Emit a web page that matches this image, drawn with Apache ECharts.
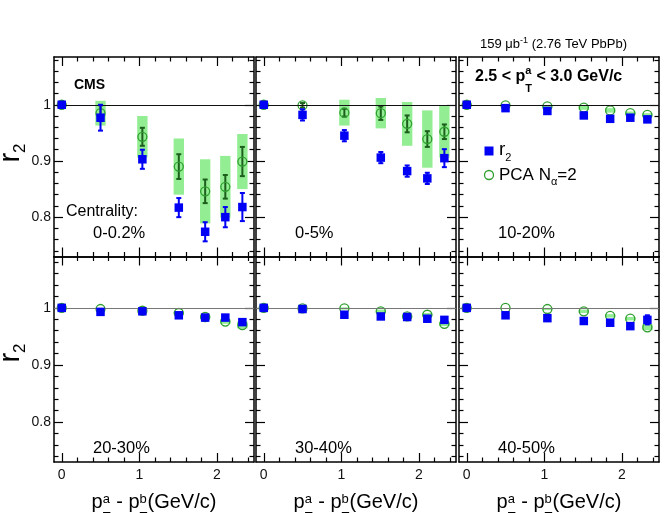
<!DOCTYPE html>
<html>
<head>
<meta charset="utf-8">
<script src="https://cdn.jsdelivr.net/npm/echarts@6/dist/echarts.min.js"></script>
<style>
html,body{margin:0;padding:0;background:#fff}
#main{width:666px;height:513px}
</style>
</head>
<body>
<div id="main"></div>
<script>
// data
var xVals = [0, 0.5, 1.04, 1.51, 1.85, 2.11, 2.33];
var centralities = ['0-0.2%', '0-5%', '10-20%', '20-30%', '30-40%', '40-50%'];
var xTickLabels = [0, 1, 2];
var yTickLabels = [0.8, 0.9, 1];

var r2Values = [
	[1, 0.977, 0.903, 0.817, 0.774, 0.800, 0.818],
	[1, 0.982, 0.945, 0.906, 0.882, 0.869, 0.905],
	[1, 0.994, 0.989, 0.981, 0.975, 0.977, 0.974],
	[1, 0.993, 0.994, 0.987, 0.983, 0.983, 0.975],
	[1, 0.998, 0.988, 0.985, 0.984, 0.981, 0.979],
	[1, 0.987, 0.982, 0.977, 0.974, 0.968, 0.979]
];
var r2Errors = [
	[0, 0.023, 0.017, 0.017, 0.017, 0.018, 0.025],
	[0, 0.010, 0.010, 0.010, 0.010, 0.010, 0.016],
	[0, 0, 0, 0, 0, 0, 0],
	[0, 0, 0, 0, 0, 0, 0],
	[0, 0, 0, 0, 0, 0, 0.004],
	[0, 0, 0, 0, 0, 0, 0.008]
];
var pcaValues = [
	[1, 0.985, 0.943, 0.890, 0.846, 0.854, 0.899],
	[1, 0.999, 0.986, 0.985, 0.966, 0.939, 0.952],
	[1, 0.999, 0.997, 0.995, 0.990, 0.985, 0.982],
	[1, 0.998, 0.995, 0.991, 0.984, 0.976, 0.970],
	[1, 0.999, 0.999, 0.994, 0.985, 0.988, 0.972],
	[1, 1.000, 0.998, 0.994, 0.986, 0.981, 0.966]
];
var pcaErrors = [
	[0, 0.014, 0.016, 0.022, 0.021, 0.021, 0.026],
	[0, 0.004, 0.007, 0.012, 0.015, 0.014, 0.013],
	[0, 0, 0, 0, 0, 0, 0],
	[0, 0, 0, 0, 0, 0, 0],
	[0, 0, 0, 0, 0, 0, 0],
	[0, 0, 0, 0, 0, 0, 0]
];
var pcaSyst = [
	[0, 0.022, 0.037, 0.050, 0.057, 0.055, 0.049],
	[0, 0, 0.023, 0.027, 0.039, 0.051, 0.046],
	[0, 0, 0.002, 0.004, 0.004, 0.003, 0.003],
	[0, 0, 0, 0.002, 0.003, 0.004, 0.006],
	[0, 0, 0.002, 0.003, 0.002, 0.003, 0.004],
	[0, 0, 0.002, 0.003, 0.003, 0.003, 0.005]
];

var FONT = 'Liberation Sans';
var BLUE = '#0000f4';
var GREEN = '#2e9e2e';
var DKGREEN = '#1c5e1c';
var BOX = '#93ee93';

var colLeft = [54, 256, 459];
var colWidth = 200;
var rows = [
	{top: 57, height: 199.5, min: 0.73, max: 1.085},
	{top: 256.5, height: 205.5, min: 0.73, max: 1.09}
];
var xMin = -0.1, xMax = 2.48;

// minor tick positions
var xMinor = [], yMinor = [];
for (var i = 1; i <= 12; i++) { if (i % 5 != 0) xMinor.push(+(i * 0.2).toFixed(2)); }
for (var i = 37; i <= 54; i++) { if (i % 5 != 0) yMinor.push(+(i * 0.02).toFixed(2)); }

var mctx = document.createElement('canvas').getContext('2d');
function tw(t, s, b){
	mctx.font = (b ? 'bold ' : '') + s + 'px "' + FONT + '"';
	return mctx.measureText(t).width;
}
// text with sub/superscripts, laid out left to right from a baseline
function textRun(parts, x, baseline, align){
	var cur = 0, stackW = 0, pos = [];
	for (var i = 0; i < parts.length; i++) {
		var p = parts[i];
		pos.push(cur);
		var w = tw(p.t, p.s, p.b);
		if (p.stack) { stackW = Math.max(stackW, w); }
		else { cur += Math.max(w, stackW); stackW = 0; }
	}
	var x0 = align == 'center' ? x - cur / 2 : (align == 'right' ? x - cur : x);
	var els = [];
	for (var i = 0; i < parts.length; i++) {
		var p = parts[i];
		els.push({
			type: 'text', silent: true,
			x: x0 + pos[i], y: baseline + (p.dy || 0) - 0.31 * p.s,
			style: {text: p.t, fontSize: p.s, fontWeight: p.b ? 'bold' : 'normal', fontFamily: FONT,
				fill: '#000', textAlign: 'left', textVerticalAlign: 'middle', align: 'left', verticalAlign: 'middle'}
		});
	}
	return els;
}
function label(t, x, y, s, b){
	return {type: 'text', silent: true, x: x, y: y,
		style: {text: t, fontSize: s, fontWeight: b ? 'bold' : 'normal', fontFamily: FONT, fill: '#000',
			textAlign: 'left', textVerticalAlign: 'middle', align: 'left', verticalAlign: 'middle'}};
}

function xAx(p, pos, major, labels){
	return {
		type: 'value', gridIndex: p, position: pos, min: xMin, max: xMax,
		axisLine: {show: major, onZero: false, lineStyle: {color: '#000', width: 1.5}},
		axisTick: {show: true, inside: true, length: major ? 9 : 4.5, customValues: major ? xTickLabels : xMinor,
			lineStyle: {color: '#000', width: 1.2}},
		axisLabel: {show: labels, customValues: xTickLabels, margin: 6, fontSize: 14, color: '#111', fontFamily: FONT},
		splitLine: {show: false}
	};
}
function yAx(p, r, pos, major, labels){
	return {
		type: 'value', gridIndex: p, position: pos, min: rows[r].min, max: rows[r].max,
		axisLine: {show: major, onZero: false, lineStyle: {color: '#000', width: 1.5}},
		axisTick: {show: true, inside: true, length: major ? 9 : 4.5, customValues: major ? yTickLabels : yMinor,
			lineStyle: {color: '#000', width: 1.2}},
		axisLabel: {show: labels, customValues: yTickLabels, margin: 3, fontSize: 14, color: '#111', fontFamily: FONT,
			formatter: function(v){ return v == 1 ? '1' : v.toFixed(1); }},
		splitLine: {show: false}
	};
}

function errRender(color){
	return function(params, api){
		var x = api.value(0), y = api.value(1), e = api.value(2);
		var a = api.coord([x, y + e]), b = api.coord([x, y - e]);
		var st = {stroke: color, lineWidth: 2};
		return {type: 'group', children: [
			{type: 'line', shape: {x1: a[0], y1: a[1], x2: b[0], y2: b[1]}, style: st},
			{type: 'line', shape: {x1: a[0] - 2.5, y1: a[1], x2: a[0] + 2.5, y2: a[1]}, style: st},
			{type: 'line', shape: {x1: b[0] - 2.5, y1: b[1], x2: b[0] + 2.5, y2: b[1]}, style: st}
		]};
	};
}
function boxRender(params, api){
	var x = api.value(0), y = api.value(1), s = api.value(2);
	var a = api.coord([x - 0.067, y + s]), b = api.coord([x + 0.067, y - s]);
	return {type: 'rect', shape: {x: a[0], y: a[1], width: b[0] - a[0], height: b[1] - a[1]}, style: {fill: BOX}};
}

var grids = [], xAxes = [], yAxes = [], series = [], graphics = [];

for (var p = 0; p < 6; p++) {
	var r = Math.floor(p / 3), c = p % 3;
	grids.push({left: colLeft[c], top: rows[r].top, width: colWidth, height: rows[r].height, show: false});
	xAxes.push(xAx(p, 'bottom', true, r == 1));
	xAxes.push(xAx(p, 'bottom', false, false));
	xAxes.push(xAx(p, 'top', true, false));
	xAxes.push(xAx(p, 'top', false, false));
	yAxes.push(yAx(p, r, 'left', true, c == 0));
	yAxes.push(yAx(p, r, 'left', false, false));
	yAxes.push(yAx(p, r, 'right', true, false));
	yAxes.push(yAx(p, r, 'right', false, false));

	var boxData = [], pcaErr = [], r2Err = [], pcaPts = [], r2Pts = [];
	for (var k = 0; k < xVals.length; k++) {
		if (pcaSyst[p][k] > 0) boxData.push([xVals[k], pcaValues[p][k], pcaSyst[p][k]]);
		if (pcaErrors[p][k] > 0) pcaErr.push([xVals[k], pcaValues[p][k], pcaErrors[p][k]]);
		if (r2Errors[p][k] > 0) r2Err.push([xVals[k], r2Values[p][k], r2Errors[p][k]]);
		pcaPts.push([xVals[k], pcaValues[p][k]]);
		r2Pts.push([xVals[k], r2Values[p][k]]);
	}
	var ax = {xAxisIndex: p * 4, yAxisIndex: p * 4, silent: true, animation: false};
	series.push(Object.assign({type: 'custom', z: 1, renderItem: boxRender, data: boxData}, ax));
	series.push(Object.assign({type: 'scatter', z: 2, data: [],
		markLine: {silent: true, symbol: ['none', 'none'], label: {show: false},
			lineStyle: {color: r == 0 ? '#111' : '#777', width: 1.2, type: 'solid'},
			data: [{yAxis: 1}]}}, ax));
	series.push(Object.assign({type: 'custom', z: 3, renderItem: errRender(DKGREEN), data: pcaErr}, ax));
	series.push(Object.assign({type: 'scatter', z: 4, symbol: 'circle', symbolSize: 9, data: pcaPts,
		itemStyle: {color: 'rgba(255,255,255,0)', borderColor: GREEN, borderWidth: 1.3, opacity: 1}}, ax));
	series.push(Object.assign({type: 'custom', z: 5, renderItem: errRender(BLUE), data: r2Err}, ax));
	series.push(Object.assign({type: 'scatter', z: 6, symbol: 'rect', symbolSize: 8.5, data: r2Pts,
		itemStyle: {color: BLUE, opacity: 1}}, ax));

	// centrality label
	graphics.push(label(centralities[p], colLeft[c] + 39, r == 0 ? 233 : 448, 16.5));
	// x axis title on the bottom row
	if (r == 1) {
		graphics = graphics.concat(textRun([
			{t: 'p', s: 20}, {t: 'a', s: 13, dy: -6, stack: true}, {t: 'T', s: 13, dy: 12},
			{t: ' - p', s: 20}, {t: 'b', s: 13, dy: -6, stack: true}, {t: 'T', s: 13, dy: 12},
			{t: '(GeV/c)', s: 20}
		], colLeft[c] + colWidth / 2, 509, 'center'));
	}
}

// y axis titles
for (var r = 0; r < 2; r++) {
	graphics.push({type: 'group', x: 20, y: r == 0 ? 153 : 353, rotation: Math.PI / 2,
		children: textRun([{t: 'r', s: 29}, {t: '2', s: 17, dy: 6}], 0, 0, 'center')});
}

graphics.push(label('CMS', 74, 85, 14, true));
graphics.push(label('Centrality:', 66, 212, 16));
graphics = graphics.concat(textRun([
	{t: '159 \u03bcb', s: 13}, {t: '-1', s: 9, dy: -5}, {t: ' (2.76 TeV PbPb)', s: 13}
], 480, 48, 'left'));
graphics = graphics.concat(textRun([
	{t: '2.5 < p', s: 16, b: true}, {t: 'a', s: 11, b: true, dy: -8, stack: true}, {t: 'T', s: 11, b: true, dy: 10},
	{t: ' < 3.0 GeV/c', s: 16, b: true}
], 475, 82, 'left'));

// legend
graphics.push({type: 'rect', silent: true, shape: {x: 484.5, y: 146.5, width: 9, height: 9}, style: {fill: BLUE}});
graphics = graphics.concat(textRun([{t: 'r', s: 19}, {t: '2', s: 11, dy: 5}], 499, 156, 'left'));
graphics.push({type: 'circle', silent: true, shape: {cx: 489, cy: 175, r: 4.5}, style: {fill: 'none', stroke: GREEN, lineWidth: 1.3}});
graphics = graphics.concat(textRun([{t: 'PCA N', s: 17}, {t: '\u03b1', s: 11, dy: 4}, {t: '=2', s: 17}], 499, 181, 'left'));

var myChart = echarts.init(document.getElementById('main'), null, {renderer: 'canvas'});
myChart.setOption({
	animation: false,
	backgroundColor: '#fff',
	grid: grids,
	xAxis: xAxes,
	yAxis: yAxes,
	series: series,
	graphic: {elements: graphics}
});
</script>
</body>
</html>
